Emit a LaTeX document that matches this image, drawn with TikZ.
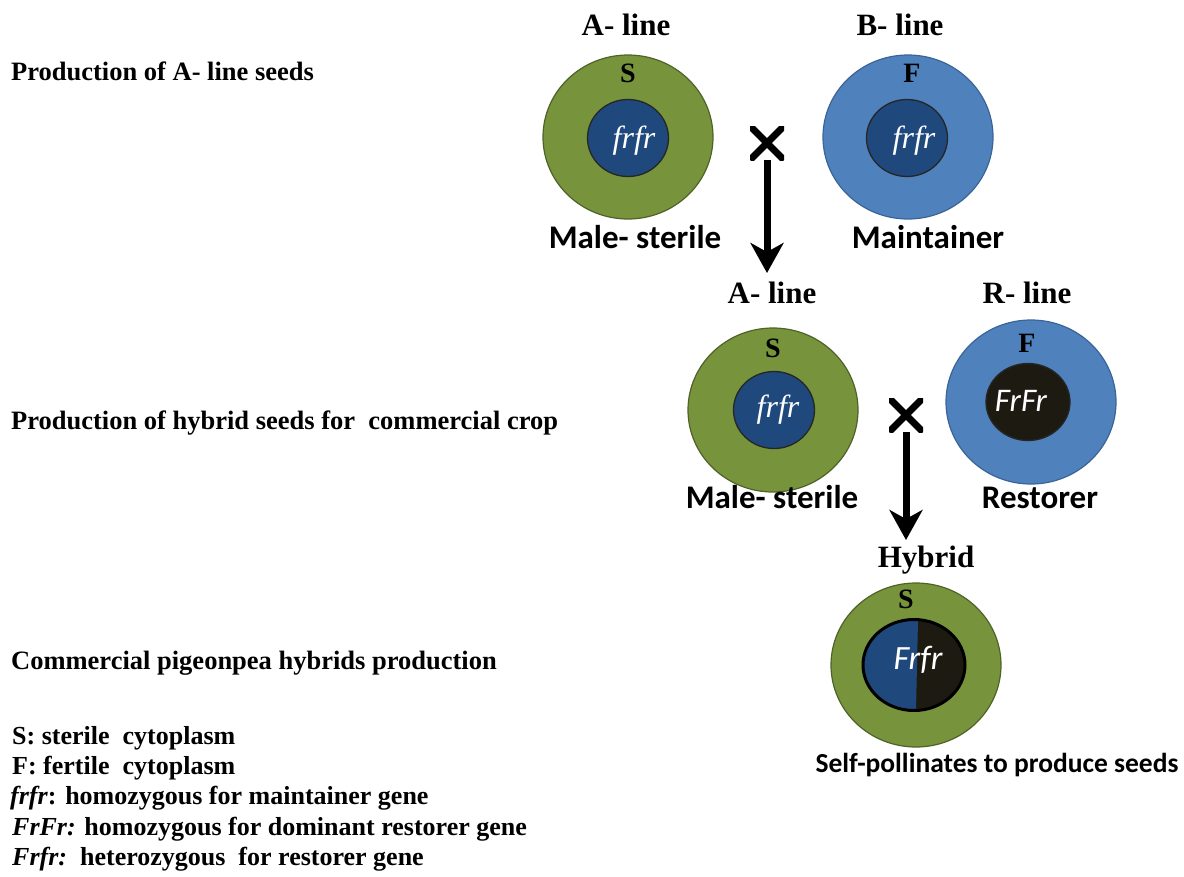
\documentclass[tikz,border=0pt]{standalone}
\usepackage{fontspec}
\setmainfont{Liberation Serif}
\newfontfamily\calfont{Carlito}
\newfontfamily\genofont{Liberation Serif Italic}
\usetikzlibrary{arrows.meta,shapes.geometric}
\definecolor{olivegreen}{HTML}{77933C}
\definecolor{olivedark}{HTML}{4F6228}
\definecolor{skyblue}{HTML}{4F81BD}
\definecolor{bluedark}{HTML}{3A6496}
\definecolor{navy}{HTML}{1F497D}
\definecolor{nearblack}{HTML}{1D1B11}
\begin{document}
\begin{tikzpicture}[x=1pt,y=-1pt,
  cyto/.style={ellipse, inner sep=0pt, minimum width=170pt, minimum height=164pt, line width=1.2pt},
  sterile/.style={cyto, fill=olivegreen, draw=olivedark},
  fertile/.style={cyto, fill=skyblue, draw=bluedark},
  nucleus/.style={ellipse, inner sep=0pt, minimum width=81pt, minimum height=77pt, draw=black!85, line width=1.3pt},
  title/.style={font=\fontsize{31}{34}\selectfont\bfseries, anchor=base, inner sep=0pt},
  cytlabel/.style={font=\fontsize{28}{30}\selectfont\bfseries, anchor=base, inner sep=0pt},
  role/.style={font=\calfont\bfseries\fontsize{33}{36}\selectfont, anchor=base, inner sep=0pt},
  genoserif/.style={font=\genofont\fontsize{32}{34}\selectfont, text=white, anchor=base, inner sep=0pt},
  genosans/.style={font=\calfont\fontsize{33}{36}\selectfont\itshape, text=white, anchor=base, inner sep=0pt},
  side/.style={font=\fontsize{26.5}{29}\selectfont\bfseries, anchor=base west, inner sep=0pt},
  legend/.style={font=\fontsize{26}{29}\selectfont\bfseries, anchor=base west, inner sep=0pt},
  crossmark/.style={rectangle, minimum size=34pt, inner sep=0pt,
    path picture={\draw[line width=7pt] (path picture bounding box.north west) -- (path picture bounding box.south east)
      (path picture bounding box.north east) -- (path picture bounding box.south west);}},
  arr/.style={line width=7pt, -{Stealth[length=30pt,width=33pt,inset=9pt]}}
]
\useasboundingbox (0,0) rectangle (1184,876);

% left side labels
\node[side] (s1) at (11,80) {Production of A- line seeds};
\node[side] (s2) at (11,429) {Production of hybrid seeds for\ \ commercial crop};
\node[side] (s3) at (11,669) {Commercial pigeonpea hybrids production};

% legend
\node[legend] (l1) at (12,744) {S: sterile\ \ cytoplasm};
\node[legend] (l2) at (12,774) {F: fertile\ \ cytoplasm};
\node[legend] (l3) at (10,804) {\textit{frfr}: homozygous for maintainer gene};
\node[legend] (l4) at (12,835) {\textit{FrFr:} homozygous for dominant restorer gene};
\node[legend] (l5) at (12,865) {\textit{Frfr:}\ \ heterozygous\ \ for restorer gene};

% row 1
\node[title] (t1) at (626,35) {A- line};
\node[title] (t2) at (900,35) {B- line};
\node[sterile] (c1) at (628,137) {};
\node[fertile] (c2) at (908,137) {};
\node[nucleus, fill=navy] (n1) at (628,138) {};
\node[nucleus, fill=navy] (n2) at (907,138) {};
\node[cytlabel] (cs1) at (628,82) {S};
\node[cytlabel] (cf2) at (912,82) {F};
\node[genoserif] (g1) at (634,148) {frfr};
\node[genoserif] (g2) at (914,148) {frfr};
\node[role] (r1) at (635,248) {Male- sterile};
\node[role] (r2) at (928,248) {Maintainer};
\node[crossmark] (x1) at (767,143) {};
\coordinate (e1) at (767,273);
\draw[arr] (x1.south) -- (e1);

% row 2
\node[title] (t3) at (772,303) {A- line};
\node[title] (t4) at (1027,303) {R- line};
\node[sterile] (c3) at (773,410) {};
\node[fertile] (c4) at (1031,402) {};
\node[nucleus, fill=navy] (n3) at (774,410) {};
\node[nucleus, fill=nearblack, minimum width=84pt] (n4) at (1028,402) {};
\node[cytlabel] (cs3) at (773,357) {S};
\node[cytlabel] (cf4) at (1027,352) {F};
\node[genoserif] (g3) at (778,417) {frfr};
\node[genosans] (g4) at (1021,411) {FrFr};
\node[role] (r3) at (772,508) {Male- sterile};
\node[role] (r4) at (1040,508) {Restorer};
\node[crossmark] (x2) at (906,415) {};
\coordinate (e2) at (906,540);
\draw[arr] (x2.south) -- (e2);

% row 3
\node[title] (t5) at (926,567) {Hybrid};
\node[sterile] (c5) at (916,665) {};
\node[ellipse, inner sep=0pt, minimum width=102pt, minimum height=91pt, fill=nearblack,
  draw=black, line width=3pt,
  path picture={\fill[navy] (path picture bounding box.south west) -- (path picture bounding box.north west)
    -- ([xshift=4pt]path picture bounding box.north) -- ([xshift=2pt]path picture bounding box.south) -- cycle;}] (n5) at (914,665) {};
\node[cytlabel] (cs5) at (906,608) {S};
\node[genosans, font=\calfont\fontsize{34}{36}\selectfont\itshape] (g5) at (918,669) {Frfr};
\node[role, font=\calfont\bfseries\fontsize{27.5}{30}\selectfont] (r5) at (997,772) {Self-pollinates to produce seeds};
\end{tikzpicture}
\end{document}
